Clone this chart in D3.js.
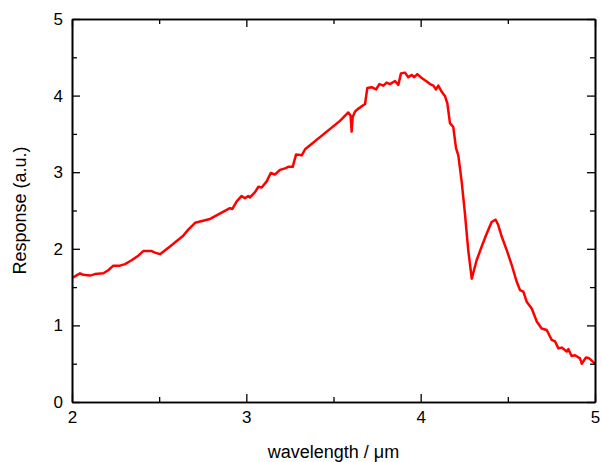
<!DOCTYPE html>
<html>
<head>
<meta charset="utf-8">
<script src="https://cdn.jsdelivr.net/npm/d3@7"></script>
<style>
  html, body { margin: 0; padding: 0; background: #fff; }
  svg { display: block; }
  text { font-family: "Liberation Sans", Arial, sans-serif; fill: #000; }
</style>
</head>
<body>
<svg id="chart" width="602" height="462"></svg>
<script>
// Spectral response curve (wavelength in µm, response in arbitrary units)
const wavelength = [
  2.000, 2.017, 2.046, 2.065, 2.103, 2.132, 2.180, 2.208, 2.237, 2.275,
  2.304, 2.342, 2.380, 2.409, 2.457, 2.476, 2.505, 2.562, 2.638, 2.667,
  2.706, 2.792, 2.906, 2.920, 2.945, 2.973, 2.992, 3.011, 3.021, 3.050,
  3.069, 3.088, 3.117, 3.140, 3.164, 3.193, 3.222, 3.241, 3.266, 3.285,
  3.318, 3.337, 3.537, 3.585, 3.598, 3.604, 3.610, 3.623, 3.637, 3.662,
  3.681, 3.694, 3.719, 3.744, 3.763, 3.786, 3.805, 3.824, 3.853, 3.872,
  3.887, 3.910, 3.929, 3.949, 3.962, 3.981, 4.006, 4.031, 4.054, 4.073,
  4.088, 4.101, 4.121, 4.140, 4.153, 4.168, 4.187, 4.203, 4.216, 4.235,
  4.254, 4.273, 4.293, 4.321, 4.350, 4.379, 4.407, 4.430, 4.445, 4.465,
  4.494, 4.522, 4.551, 4.570, 4.589, 4.608, 4.637, 4.666, 4.694, 4.723,
  4.752, 4.771, 4.790, 4.809, 4.838, 4.847, 4.866, 4.885, 4.914, 4.924,
  4.948, 4.967, 5.000
];
const response = [
  1.62, 1.64, 1.68, 1.66, 1.65, 1.67, 1.68, 1.72, 1.78, 1.78,
  1.80, 1.85, 1.91, 1.97, 1.97, 1.95, 1.93, 2.03, 2.17, 2.25,
  2.34, 2.39, 2.53, 2.52, 2.62, 2.69, 2.66, 2.69, 2.67, 2.74,
  2.81, 2.80, 2.88, 2.99, 2.97, 3.03, 3.05, 3.07, 3.07, 3.23,
  3.22, 3.30, 3.67, 3.78, 3.74, 3.53, 3.72, 3.79, 3.82, 3.86,
  3.89, 4.10, 4.11, 4.08, 4.15, 4.13, 4.17, 4.15, 4.19, 4.14,
  4.29, 4.30, 4.24, 4.27, 4.24, 4.28, 4.23, 4.19, 4.15, 4.13,
  4.08, 4.13, 4.05, 3.99, 3.90, 3.64, 3.59, 3.31, 3.22, 2.88,
  2.46, 1.98, 1.61, 1.85, 2.03, 2.20, 2.35, 2.38, 2.31, 2.16,
  1.98, 1.79, 1.57, 1.46, 1.44, 1.31, 1.22, 1.05, 0.96, 0.94,
  0.81, 0.79, 0.70, 0.71, 0.66, 0.69, 0.60, 0.61, 0.57, 0.50,
  0.58, 0.57, 0.50
];
const xMajorTicks = [2, 3, 4, 5];
const xMinorTicks = [2.5, 3.5, 4.5];
const yMajorTicks = [0, 1, 2, 3, 4, 5];
const yMinorTicks = [0.5, 1.5, 2.5, 3.5, 4.5];

const svg = d3.select("#chart");
const margin = { left: 72, right: 7, top: 19, bottom: 60 };
const W = 602, H = 462;
const innerW = W - margin.left - margin.right;
const innerH = H - margin.top - margin.bottom;

const x = d3.scaleLinear().domain([2, 5]).range([0, innerW]);
const y = d3.scaleLinear().domain([0, 5]).range([innerH, 0]);

const g = svg.append("g").attr("transform", `translate(${margin.left},${margin.top})`);

// clip for the curve
g.append("clipPath").attr("id", "plotclip")
  .append("rect").attr("x", 0).attr("y", 0).attr("width", innerW).attr("height", innerH);

const line = d3.line()
  .x((d, i) => x(wavelength[i]))
  .y(d => y(d));

g.append("path")
  .datum(response)
  .attr("clip-path", "url(#plotclip)")
  .attr("fill", "none")
  .attr("stroke", "#ff0000")
  .attr("stroke-width", 2.5)
  .attr("stroke-linejoin", "round")
  .attr("d", line);

// axes with inward ticks on all four sides
function styleAxis(sel) {
  sel.selectAll("path.domain").attr("stroke", "#000").attr("stroke-width", 1.6);
  sel.selectAll(".tick line").attr("stroke", "#000").attr("stroke-width", 1.3);
  sel.selectAll(".tick text").style("font-size", "17px").style("font-family", "Liberation Sans, Arial, sans-serif");
}

g.append("g").attr("transform", `translate(0,${innerH})`)
  .call(d3.axisBottom(x).tickValues(xMajorTicks).tickFormat(d3.format("d"))
    .tickSizeInner(-8).tickSizeOuter(0).tickPadding(9))
  .call(styleAxis);
g.append("g").attr("transform", `translate(0,${innerH})`)
  .call(d3.axisBottom(x).tickValues(xMinorTicks).tickFormat("")
    .tickSizeInner(-5).tickSizeOuter(0))
  .call(styleAxis);
g.append("g")
  .call(d3.axisTop(x).tickValues(xMajorTicks).tickFormat("")
    .tickSizeInner(-8).tickSizeOuter(0))
  .call(styleAxis);
g.append("g")
  .call(d3.axisTop(x).tickValues(xMinorTicks).tickFormat("")
    .tickSizeInner(-5).tickSizeOuter(0))
  .call(styleAxis);

g.append("g")
  .call(d3.axisLeft(y).tickValues(yMajorTicks).tickFormat(d3.format("d"))
    .tickSizeInner(-8).tickSizeOuter(0).tickPadding(9))
  .call(styleAxis);
g.append("g")
  .call(d3.axisLeft(y).tickValues(yMinorTicks).tickFormat("")
    .tickSizeInner(-5).tickSizeOuter(0))
  .call(styleAxis);
g.append("g").attr("transform", `translate(${innerW},0)`)
  .call(d3.axisRight(y).tickValues(yMajorTicks).tickFormat("")
    .tickSizeInner(-8).tickSizeOuter(0))
  .call(styleAxis);
g.append("g").attr("transform", `translate(${innerW},0)`)
  .call(d3.axisRight(y).tickValues(yMinorTicks).tickFormat("")
    .tickSizeInner(-5).tickSizeOuter(0))
  .call(styleAxis);

// axis titles
svg.append("text")
  .attr("x", margin.left + innerW / 2)
  .attr("y", 458)
  .attr("text-anchor", "middle")
  .style("font-size", "18px")
  .text("wavelength / μm");

svg.append("text")
  .attr("transform", `translate(26,${margin.top + innerH / 2}) rotate(-90)`)
  .attr("text-anchor", "middle")
  .style("font-size", "18px")
  .text("Response (a.u.)");
</script>
</body>
</html>
